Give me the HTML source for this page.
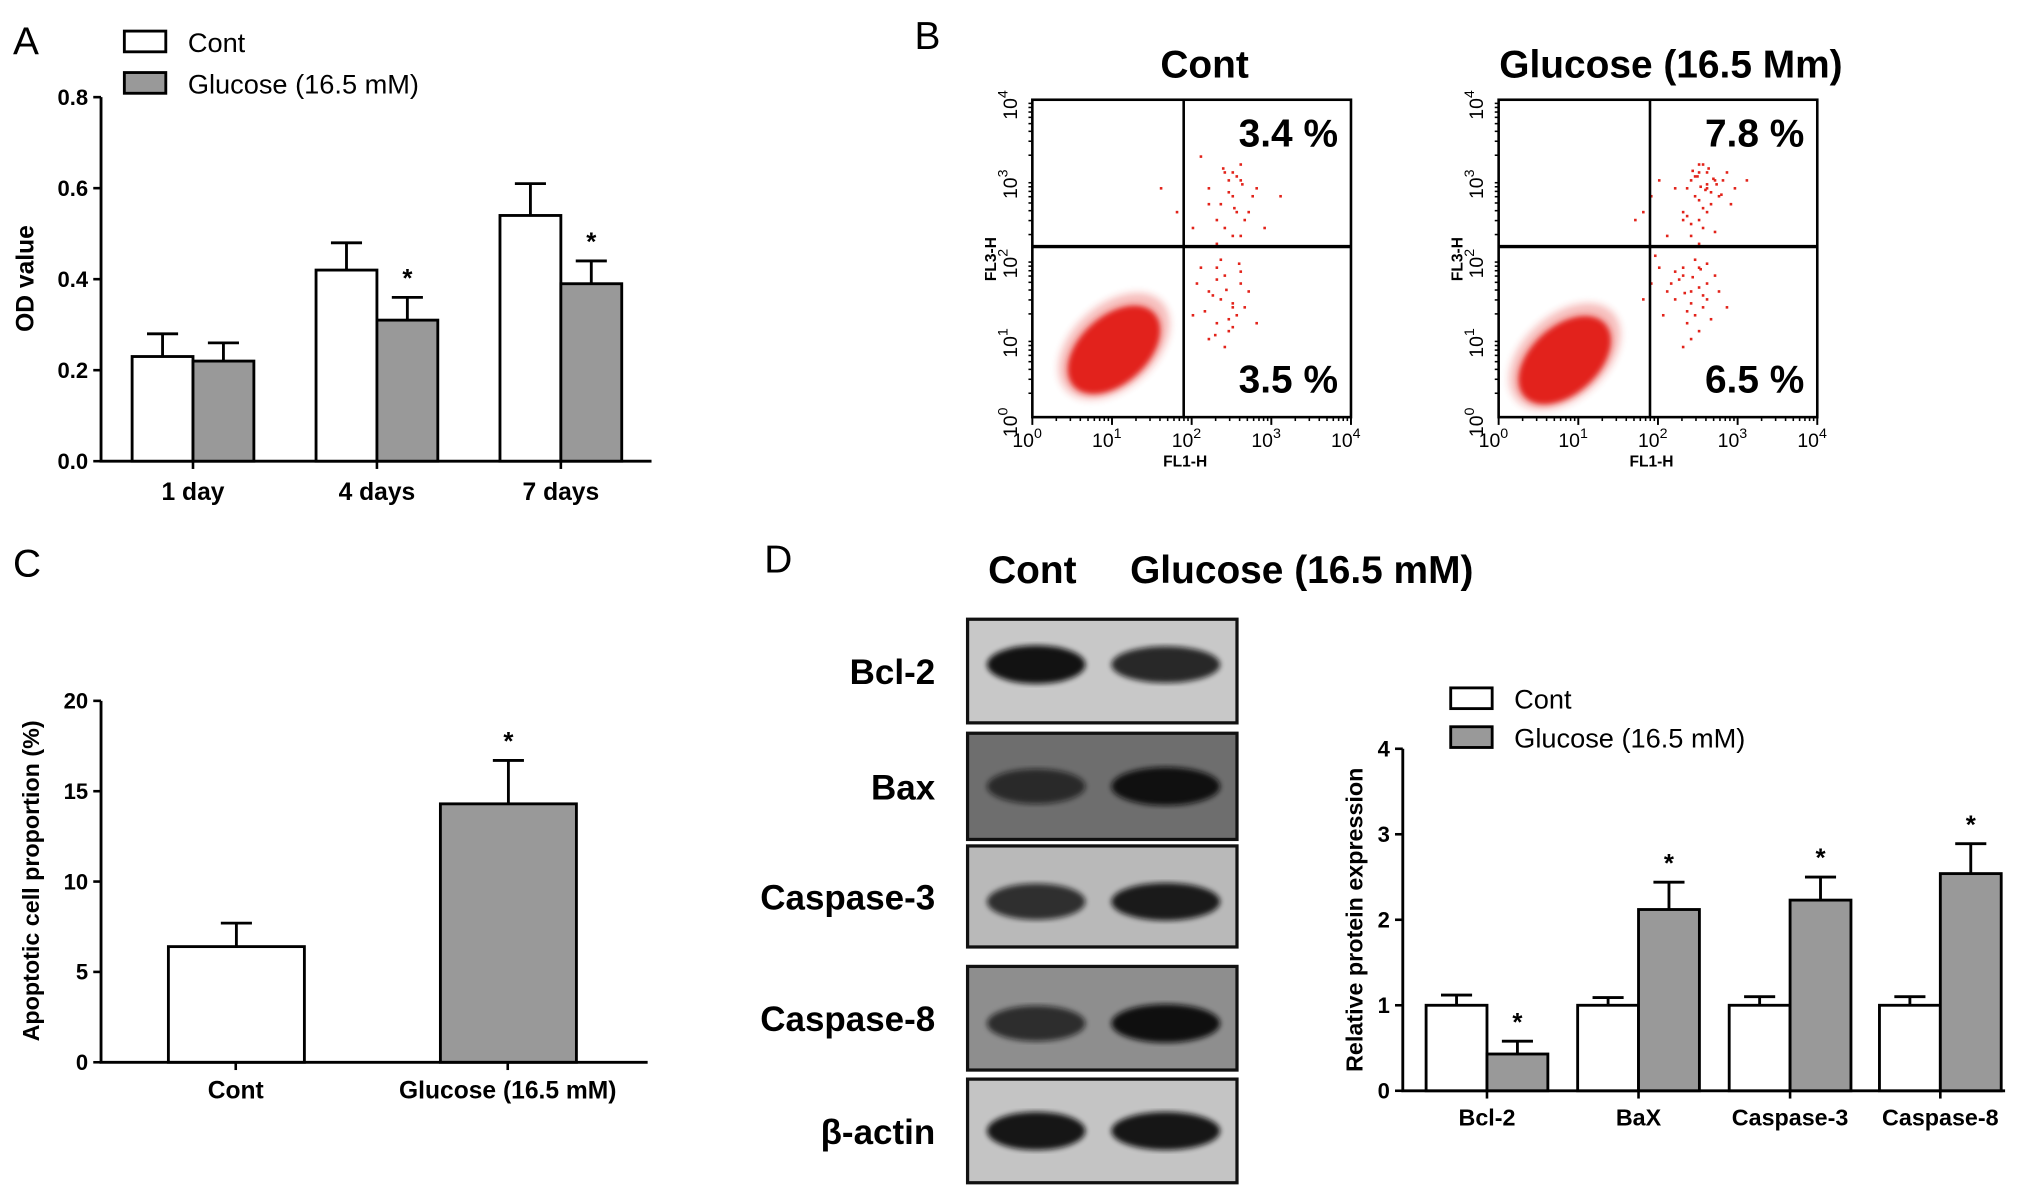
<!DOCTYPE html>
<html><head><meta charset="utf-8"><style>
html,body{margin:0;padding:0;background:#fff}
svg{display:block}
text{font-family:"Liberation Sans",Arial,sans-serif}
</style></head><body>
<svg id="fig" width="2031" height="1197" viewBox="0 0 1568 924" preserveAspectRatio="none" xmlns="http://www.w3.org/2000/svg">
<defs>
<filter id="blur2"><feGaussianBlur stdDeviation="3"/></filter>
<filter id="blur1"><feGaussianBlur stdDeviation="2"/></filter>
</defs>
<rect width="1568" height="924" fill="#fff"/>
<g id="gA"></g>
<g id="gB"></g>
<g id="gC"></g>
<g id="gD"></g>
</svg>
<script>
// ---- Panel A data ----
const aCategories = ["1 day","4 days","7 days"];
const aCont = [0.23,0.42,0.54];
const aContErr = [0.05,0.06,0.07];
const aGluc = [0.22,0.31,0.39];
const aGlucErr = [0.04,0.05,0.05];
const aSig = [false,true,true];
const aTicks = ["0.0","0.2","0.4","0.6","0.8"];
// ---- Panel B data ----
const bPercentsCont = ["3.4 %","3.5 %"];
const bPercentsGluc = ["7.8 %","6.5 %"];
const bContUR_x = [2.3,2.5,2.6,2.4,2.7,2.2,2.9,2.5,2.35,2.6,2.8,2.45,2.55,2.3,2.65,2.4,2.2,2.75,2.5,2.6,1.6,1.8,2.1,3.1,2.0,2.55,2.45,2.62,2.38,2.52];
const bContUR_y = [2.5,2.8,3.0,3.1,2.6,2.9,2.4,2.3,2.7,3.2,2.9,3.0,2.6,2.2,2.5,2.4,2.7,2.8,3.1,2.3,2.9,2.6,3.3,2.8,2.4,3.05,2.85,2.95,3.15,2.65];
const bContLR_x = [2.2,2.4,2.5,2.3,2.6,2.1,2.45,2.35,2.55,2.2,2.7,2.4,2.3,2.5,2.15,2.6,2.35,2.45,2.25,2.5,2.3,2.65,2.0,2.05,2.8,2.42,2.28,2.58];
const bContLR_y = [1.6,1.8,1.4,1.2,1.7,1.9,1.1,1.5,1.3,1.0,1.6,0.9,1.75,1.45,1.35,1.85,2.0,1.25,1.55,1.15,1.9,1.4,1.3,1.7,1.2,1.62,1.05,1.95];
const bGlucUR_x = [2.4,2.5,2.6,2.55,2.7,2.45,2.3,2.65,2.5,2.8,2.35,2.6,2.75,2.4,2.55,2.2,2.9,2.5,2.6,2.45,2.7,2.3,2.5,2.65,2.55,2.4,2.6,2.85,2.5,2.35,1.7,1.9,2.0,2.1,1.8,2.95,3.1,2.62,2.48,2.72,2.58,2.42,2.68,2.52,2.78];
const bGlucUR_y = [3.0,3.1,2.9,3.2,3.0,2.8,2.6,2.7,2.5,3.0,2.9,3.1,2.8,2.3,2.4,2.9,2.7,3.2,2.6,3.05,2.35,2.5,2.2,2.85,2.65,2.45,2.95,3.1,2.75,2.55,2.5,2.8,3.0,2.3,2.6,2.9,3.0,3.15,3.05,2.95,2.88,3.12,3.02,2.92,2.82];
const bGlucLR_x = [2.3,2.4,2.5,2.2,2.6,2.45,2.35,2.55,2.1,2.7,2.4,2.3,2.5,2.6,2.25,2.45,2.35,2.65,2.2,2.5,2.4,2.3,2.55,2.15,2.6,1.8,1.9,2.0,2.05,1.95,2.75,2.85,2.42,2.52,2.32];
const bGlucLR_y = [1.8,1.6,1.9,1.5,1.7,1.3,1.2,1.4,1.6,1.8,1.0,1.9,1.1,1.5,1.75,2.0,1.35,1.25,1.85,1.65,1.45,0.9,1.55,1.7,1.95,1.5,1.7,1.9,1.3,2.05,1.6,1.4,1.78,1.88,1.58];
const bLogTicks = [0,1,2,3,4];
// ---- Panel C data ----
const cCategories = ["Cont","Glucose (16.5 mM)"];
const cValues = [6.4,14.3];
const cErr = [1.3,2.4];
const cTicks = [0,5,10,15,20];
// ---- Panel D data ----
const dCategories = ["Bcl-2","BaX","Caspase-3","Caspase-8"];
const dCont = [1,1,1,1];
const dContErr = [0.12,0.09,0.1,0.1];
const dGluc = [0.43,2.12,2.23,2.54];
const dGlucErr = [0.15,0.32,0.27,0.35];
const dTicks = [0,1,2,3,4];
const blotLabels = ["Bcl-2","Bax","Caspase-3","Caspase-8","β-actin"];
const blotContInt = [0.97,0.7,0.8,0.75,0.95];
const blotGlucInt = [0.85,0.97,0.92,0.98,0.95];

const NS="http://www.w3.org/2000/svg";
function mk(parent,tag,attrs,txt){const e=document.createElementNS(NS,tag);for(const k in attrs)e.setAttribute(k,attrs[k]);if(txt!==undefined)e.textContent=txt;parent.appendChild(e);return e;}

function barChart(g,o){
  const ys=v=>o.y0-(v-o.vmin)/(o.vmax-o.vmin)*(o.y0-o.y1);
  const ax=mk(g,'path',{d:`M${o.x0},${o.y1}V${o.y0}H${o.xEnd}`,stroke:'#000','stroke-width':2.2,fill:'none'});
  
  
  o.ticks.forEach((t,i)=>{
    const v=o.tickVals[i];const y=ys(v);
    mk(g,'line',{x1:o.x0-6,x2:o.x0,y1:y,y2:y,stroke:'#000','stroke-width':2});
    const tl=mk(g,'text',{x:o.x0-10,y:y+6,'text-anchor':'end','font-size':o.tfs,'font-weight':'bold'},t);
    
    
  });
  o.groups.forEach((grp,i)=>{
    grp.bars.forEach(b=>{
      const y=ys(b.v);
      const r=mk(g,'rect',{x:b.x,y:y,width:b.w,height:o.y0-y,fill:b.fill,stroke:'#000','stroke-width':2.2});
      
      
      const ye=ys(b.v+b.e);const cx=b.x+b.w/2;
      mk(g,'path',{d:`M${cx},${y}V${ye}M${cx-12},${ye}H${cx+12}`,stroke:'#000','stroke-width':2.2,fill:'none'});
      if(b.sig){const s=mk(g,'text',{x:cx,y:ye-8,'text-anchor':'middle','font-size':20,'font-weight':'bold'},'*');
        
        }
    });
    mk(g,'line',{x1:grp.cx,x2:grp.cx,y1:o.y0,y2:o.y0+6,stroke:'#000','stroke-width':2});
    const l=mk(g,'text',{x:grp.cx,y:o.y0+o.lblOff,'text-anchor':'middle','font-size':o.lfs,'font-weight':'bold'},grp.label);
    
    
  });
  const yt=mk(g,'text',{x:0,y:0,transform:`translate(${o.ytx},${o.yty}) rotate(-90)`,'text-anchor':'middle','font-size':o.ytfs,'font-weight':'bold'},o.ytitle);
  
  
}
function legend(g,x,y,dy,fs){
  [["Cont","#fff"],["Glucose (16.5 mM)","#999"]].forEach((e,i)=>{
    const le=mk(g,'g',{});
    
    
    mk(le,'rect',{x:x,y:y+i*dy,width:32,height:16,fill:e[1],stroke:'#000','stroke-width':2.2});
    mk(le,'text',{x:x+49,y:y+i*dy+16,'font-size':fs},e[0]);
  });
}
function panelLetter(g,l,x,y){const t=mk(g,'text',{x:x,y:y,'font-size':30},l);
  
  }

// ---- A ----
(function(){
 const g=document.getElementById('gA');
 panelLetter(g,'A',10,42);
 legend(g,96,24,32,21);
 const starts=[102,244,386];
 barChart(g,{x0:78,xEnd:503,y0:356,y1:75,vmin:0,vmax:0.8,ticks:aTicks,tickVals:aTicks.map(Number),tfs:17,lfs:19,lblOff:30,
  ytx:26,yty:215,ytfs:19,ytitle:'OD value',
  groups:aCategories.map((c,i)=>({label:c,cx:starts[i]+47,bars:[
   {x:starts[i],w:47,v:aCont[i],e:aContErr[i],fill:'#fff'},
   {x:starts[i]+47,w:47,v:aGluc[i],e:aGlucErr[i],fill:'#999',sig:aSig[i]}]}))});
})();

// ---- B ----
function flow(g,bx,title,pcts,urx,ury,lrx,lry,blob){
 const x0=bx,x1=bx+246,yb=322,yt=77;
 const xs=v=>x0+v/4*(x1-x0), ys=v=>yb-v/4*(yb-yt);
 const tt=mk(g,'text',{x:(x0+x1)/2+10,y:60,'text-anchor':'middle','font-size':30,'font-weight':'bold'},title);
 
 
 mk(g,'ellipse',{cx:blob[0]+2,cy:blob[1]-2,rx:50,ry:32,fill:'#e2231a',opacity:0.3,transform:`rotate(-42 ${blob[0]} ${blob[1]})`,filter:'url(#blur2)'});
 const bl=mk(g,'ellipse',{cx:blob[0],cy:blob[1],rx:42,ry:26,fill:'#e2231a',transform:`rotate(-42 ${blob[0]} ${blob[1]})`,filter:'url(#blur1)'});
 
 
 const pts=[[urx,ury],[lrx,lry]];
 pts.forEach(p=>p[0].forEach((vx,i)=>{
   const c=mk(g,'rect',{x:xs(vx),y:ys(p[1][i]),width:2,height:2,fill:'#e2231a'});
   
   
 }));
 const fr=mk(g,'rect',{x:x0,y:yt,width:x1-x0,height:yb-yt,fill:'none',stroke:'#000','stroke-width':2});
 
 
 const qx=xs(1.9),qy=ys(2.15);
 mk(g,'line',{x1:qx,x2:qx,y1:yt,y2:yb,stroke:'#000','stroke-width':2});
 mk(g,'line',{x1:x0,x2:x1,y1:qy,y2:qy,stroke:'#000','stroke-width':2.6});
 bLogTicks.forEach(t=>{
   const tx=mk(g,'text',{x:xs(t)-4,y:345,'text-anchor':'middle','font-size':15},'10');
   mk(tx,'tspan',{dy:-7,'font-size':11},String(t));
   
   
   const ty=mk(g,'text',{x:0,y:0,transform:`translate(${x0-12},${ys(t)+4}) rotate(-90)`,'text-anchor':'middle','font-size':15},'10');
   mk(ty,'tspan',{dy:-7,'font-size':11},String(t));
   
   
   if(t<4)for(let m=2;m<10;m++){const lx=xs(t+Math.log10(m));mk(g,'line',{x1:lx,x2:lx,y1:yb,y2:yb+3,stroke:'#000','stroke-width':1.2});
     const ly=ys(t+Math.log10(m));mk(g,'line',{x1:x0-3,x2:x0,y1:ly,y2:ly,stroke:'#000','stroke-width':1.2});}
   mk(g,'line',{x1:xs(t),x2:xs(t),y1:yb,y2:yb+6,stroke:'#000','stroke-width':1.5});
 });
 const xl=mk(g,'text',{x:(x0+x1)/2-5,y:360,'text-anchor':'middle','font-size':12,'font-weight':'bold'},'FL1-H');
 
 
 const yl=mk(g,'text',{x:0,y:0,transform:`translate(${x0-28},200) rotate(-90)`,'text-anchor':'middle','font-size':12,'font-weight':'bold'},'FL3-H');
 
 
 [[pcts[0],113],[pcts[1],303]].forEach(p=>{const t=mk(g,'text',{x:x1-10,y:p[1],'text-anchor':'end','font-size':30,'font-weight':'bold'},p[0]);
   
   });
}
(function(){
 const g=document.getElementById('gB');
 panelLetter(g,'B',706,38);
 flow(g,797,'Cont',bPercentsCont,bContUR_x,bContUR_y,bContLR_x,bContLR_y,[860,270]);
 flow(g,1157,'Glucose (16.5 Mm)',bPercentsGluc,bGlucUR_x,bGlucUR_y,bGlucLR_x,bGlucLR_y,[1208,278]);
})();

// ---- C ----
(function(){
 const g=document.getElementById('gC');
 panelLetter(g,'C',10,445);
 const starts=[130,340];
 barChart(g,{x0:78,xEnd:500,y0:820,y1:541,vmin:0,vmax:20,ticks:cTicks.map(String),tickVals:cTicks,tfs:17,lfs:19,lblOff:28,
  ytx:30,yty:680,ytfs:18,ytitle:'Apoptotic cell proportion (%)',
  groups:cCategories.map((c,i)=>({label:c,cx:starts[i]+52,bars:[
   {x:starts[i],w:105,v:cValues[i],e:cErr[i],fill:i?'#999':'#fff',sig:i===1}]}))});
})();

// ---- D ----
(function(){
 const g=document.getElementById('gD');
 panelLetter(g,'D',590,442);
 const h1=mk(g,'text',{x:797,y:450,'text-anchor':'middle','font-size':30,'font-weight':'bold'},'Cont');
 
 
 const h2=mk(g,'text',{x:1005,y:450,'text-anchor':'middle','font-size':30,'font-weight':'bold'},'Glucose (16.5 mM)');
 
 
 const rows=[[478,558,'#c8c8c8'],[566,648,'#6e6e6e'],[653,731,'#b9b9b9'],[746,826,'#8e8e8e'],[833,913,'#c4c4c4']];
 rows.forEach((r,i)=>{
  const bg=mk(g,'g',{});
  
  
  mk(bg,'rect',{x:747,y:r[0],width:208,height:r[1]-r[0],fill:r[2],stroke:'#111','stroke-width':2.5});
  const cy=(r[0]+r[1])/2-(i===0?5:0)+(i===2||i===3?4:0);
  mk(bg,'ellipse',{cx:800,cy:cy,rx:38,ry:10+blotContInt[i]*5,fill:'#111',opacity:blotContInt[i],filter:'url(#blur1)'});
  mk(bg,'ellipse',{cx:900,cy:cy,rx:42,ry:9+blotGlucInt[i]*6,fill:'#111',opacity:blotGlucInt[i],filter:'url(#blur1)'});
  const lt=mk(g,'text',{x:722,y:(r[0]+r[1])/2+10,'text-anchor':'end','font-size':27,'font-weight':'bold'},blotLabels[i]);
  
  
 });
 legend(g,1120,531,30,21);
 const starts=[1101,1218,1335,1451];
 barChart(g,{x0:1083,xEnd:1548,y0:842,y1:578,vmin:0,vmax:4,ticks:dTicks.map(String),tickVals:dTicks,tfs:17,lfs:18,lblOff:27,
  ytx:1052,yty:710,ytfs:18,ytitle:'Relative protein expression',
  groups:dCategories.map((c,i)=>({label:c,cx:starts[i]+47,bars:[
   {x:starts[i],w:47,v:dCont[i],e:dContErr[i],fill:'#fff'},
   {x:starts[i]+47,w:47,v:dGluc[i],e:dGlucErr[i],fill:'#999',sig:true}]}))});
})();
</script>
</body></html>
